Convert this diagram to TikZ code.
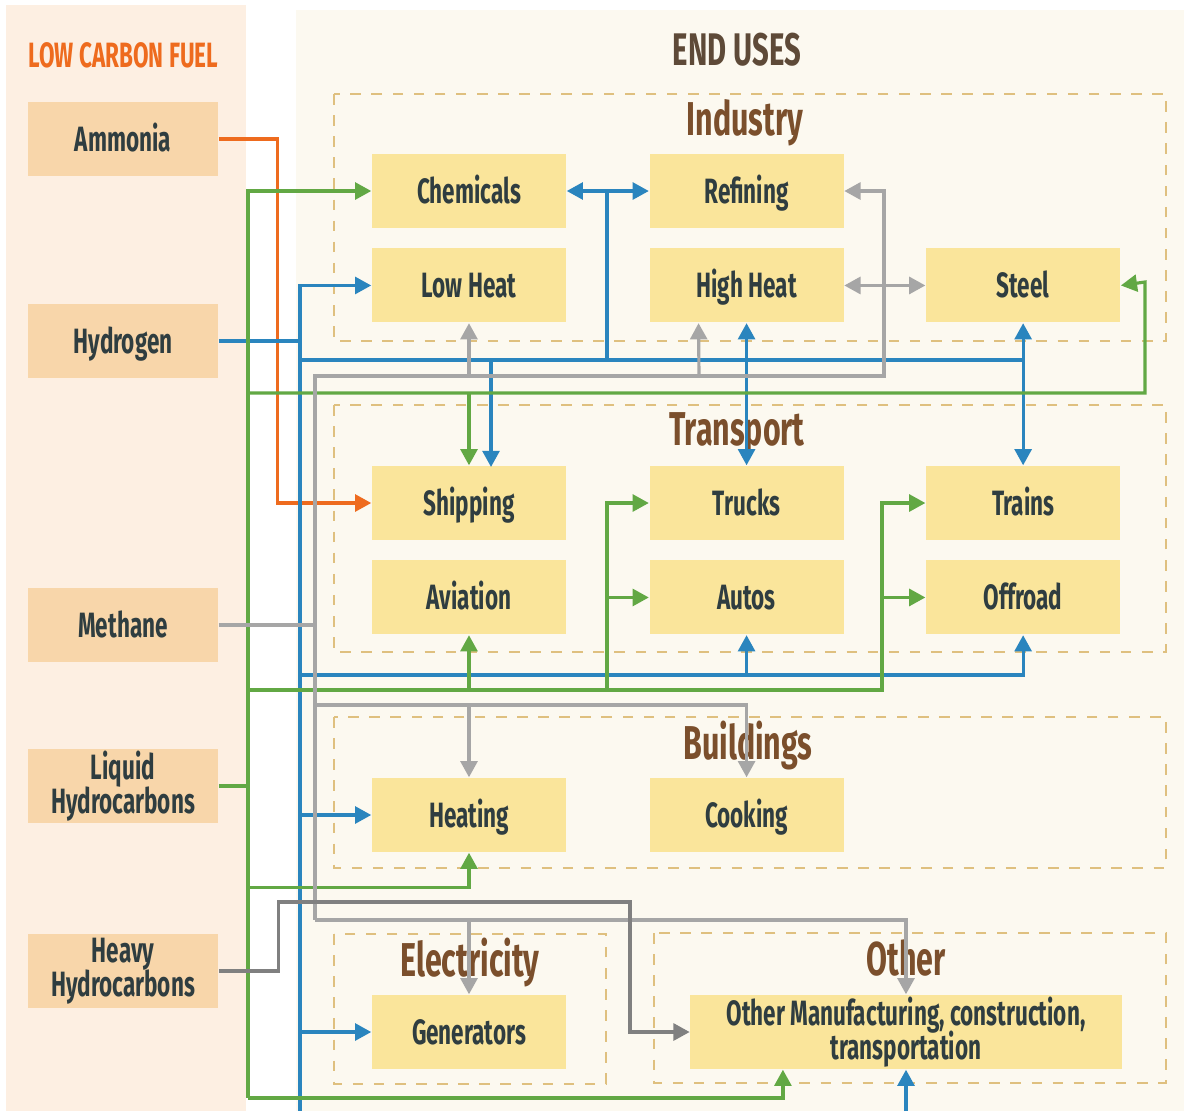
\documentclass[tikz,border=0pt]{standalone}
\usepackage{fontspec}
\setmainfont{Fira Sans}[FakeStretch=0.64]
\usepackage{xcolor}
\definecolor{FuelPanel}{HTML}{FDEFE2}
\definecolor{UsePanel}{HTML}{FCF9F0}
\definecolor{FuelBox}{HTML}{F8D6AA}
\definecolor{UseBox}{HTML}{FAE59B}
\definecolor{GroupLine}{HTML}{DFC07F}
\definecolor{BoxText}{HTML}{2F3D40}
\definecolor{TitleBrown}{HTML}{7B4F2C}
\definecolor{HeadBrown}{HTML}{5E4A38}
\definecolor{FuelOrange}{HTML}{EE6B1E}
\definecolor{H2Blue}{HTML}{2A85BE}
\definecolor{LiqGreen}{HTML}{62A844}
\definecolor{CH4Gray}{HTML}{A6A6A6}
\definecolor{HeavyGray}{HTML}{808080}
\usetikzlibrary{arrows.meta, positioning}

\begin{document}
\begin{tikzpicture}[
        x=0.01cm, y=-0.01cm,
        node distance=0cm,
        >={Triangle[length=4.6pt,width=4.8pt]},
        fuel/.style={rectangle, fill=FuelBox, text=BoxText, font=\bfseries\fontsize{10}{10.5}\selectfont, align=center, minimum width=1.9cm, minimum height=0.74cm, inner sep=0pt},
        use/.style={rectangle, fill=UseBox, text=BoxText, font=\bfseries\fontsize{10}{10.5}\selectfont, align=center, minimum width=1.94cm, minimum height=0.74cm, inner sep=0pt},
        oneline/.style={text height=1.6ex, text depth=0.3ex},
        group/.style={draw=GroupLine, line width=0.8pt, dash pattern=on 3pt off 3pt},
        grouptitle/.style={text=TitleBrown, font=\bfseries\fontsize{13.5}{13.5}\selectfont},
        nh3/.style={draw=FuelOrange, line width=0.9pt},
        h2/.style={draw=H2Blue, line width=0.9pt},
        liq/.style={draw=LiqGreen, line width=0.9pt},
        ch4/.style={draw=CH4Gray, line width=0.9pt},
        heavyline/.style={draw=HeavyGray, line width=0.9pt}
    ]
        \useasboundingbox (0,0) rectangle (1184,1111);
        \fill[white] (0,0) rectangle (1184,1111);
        \fill[FuelPanel] (6,5) rectangle (246,1111);
        \fill[UsePanel] (296,10) rectangle (1184,1111);

        \node[text=FuelOrange, font=\bfseries\fontsize{10}{10}\selectfont, anchor=west, inner sep=0pt] (fueltitle) at (28,55) {LOW CARBON FUEL};
        \node[text=HeadBrown, font=\bfseries\fontsize{13}{13}\selectfont] (usetitle) at (737,50) {END USES};

        % sector frames
        \draw[group] (334,94) rectangle (1166,341);
        \draw[group] (334,405) rectangle (1166,652);
        \draw[group] (334,717) rectangle (1166,868);
        \draw[group] (334,934) rectangle (606,1084);
        \draw[group] (654,933) rectangle (1166,1083);
        \node[grouptitle] (industry) at (745,123) {Industry};
        \node[grouptitle] (transport) at (737,434) {Transport};
        \node[grouptitle] (buildings) at (748,746) {Buildings};
        \node[grouptitle] (electricity) at (470,963) {Electricity};
        \node[grouptitle] (othertitle) at (906,958) {Other};

        % fuels
        \node[fuel, oneline] (ammonia) at (123,139) {Ammonia};
        \node[fuel, oneline] (hydrogen) at (123,341) {Hydrogen};
        \node[fuel, oneline] (methane) at (123,625) {Methane};
        \node[fuel] (liquid) at (123,786) {Liquid\\[-1pt]Hydrocarbons};
        \node[fuel] (heavy) at (123,971) {Heavy\\[-1pt]Hydrocarbons};

        % end uses
        \node[use, oneline] (chem) at (469,191) {Chemicals};
        \node[use, oneline, below=0.19cm of chem] (lowheat) {Low Heat};
        \node[use, oneline, right=0.82cm of chem] (refining) {Refining};
        \node[use, oneline, right=0.82cm of lowheat] (highheat) {High Heat};
        \node[use, oneline, right=0.81cm of highheat] (steel) {Steel};
        \node[use, oneline] (shipping) at (469,503) {Shipping};
        \node[use, oneline, below=0.19cm of shipping] (aviation) {Aviation};
        \node[use, oneline, right=0.82cm of shipping] (trucks) {Trucks};
        \node[use, oneline, right=0.82cm of aviation] (autos) {Autos};
        \node[use, oneline, right=0.81cm of trucks] (trains) {Trains};
        \node[use, oneline, right=0.81cm of autos] (offroad) {Offroad};
        \node[use, oneline] (heating) at (469,815) {Heating};
        \node[use, oneline, right=0.82cm of heating] (cooking) {Cooking};
        \node[use, oneline] (generators) at (469,1032) {Generators};
        \node[use, minimum width=4.31cm] (other) at (906,1032) {Other Manufacturing, construction,\\[-1pt]transportation};

        % bus points
        \coordinate (hbus1) at (300,360);
        \coordinate (hbus2) at (300,675);
        \coordinate (h2end) at (300,1111);
        \coordinate (gt) at (248,786);
        \coordinate (gbus1) at (248,393);
        \coordinate (gbus2) at (248,690);
        \coordinate (gbot) at (248,1098);
        \coordinate (mt) at (315,625);
        \coordinate (mbus1) at (315,376);
        \coordinate (mbus2) at (315,705);
        \coordinate (mbus3) at (315,920);
        \coordinate (cr) at (607,191);
        \coordinate (tx) at (882,594);

        % ammonia
        \draw[nh3,->] (ammonia.east) -- ++(59,0) |- (shipping.west);

        % hydrogen
        \draw[h2] (hydrogen.east) -| (h2end);
        \draw[h2,->] (300,341) |- (lowheat.west);
        \draw[h2,->] (hbus1) -| (steel.south);
        \draw[h2,<->] (chem) -- (refining);
        \draw[h2] (cr) -- (cr |- hbus1);
        \draw[h2,->] (hbus1 -| 491,0) -- (491,467);
        \draw[h2,<->] (highheat) -- (trucks);
        \draw[h2,->] (hbus1 -| steel) -- (trains);
        \draw[h2,->] (hbus2) -| (offroad.south);
        \draw[h2,->] (hbus2 -| autos) -- (autos.south);
        \draw[h2,->] (heating.west -| hbus1) -- (heating.west);
        \draw[h2,->] (generators.west -| hbus1) -- (generators.west);
        \draw[h2,->] (other.south |- h2end) -- (other.south);

        % liquid hydrocarbons
        \draw[liq] (liquid.east) -- (gt);
        \draw[liq,->] (gt) |- (chem.west);
        \draw[liq] (gt) -- (gbot);
        \draw[liq,->] (gbus1) -| (1145,282) -- (steel.east);
        \draw[liq,->] (gbus1 -| shipping.north) -- (shipping.north);
        \draw[liq,->] (gbus2) -| (tx) |- (trains.west);
        \draw[liq,->] (tx |- offroad.west) -- (offroad.west);
        \draw[liq,->] (gbus2 -| aviation.south) -- (aviation.south);
        \draw[liq,->] (gbus2 -| cr) |- (trucks.west);
        \draw[liq,->] (cr |- autos.west) -- (autos.west);
        \draw[liq,->] (gt) |- ([yshift=-0.35cm]heating.south) -- (heating.south);
        \draw[liq,->] (gbot) -| ([xshift=-1.23cm]other.south);

        % methane
        \draw[ch4] (methane.east) -- (mt);
        \draw[ch4,->] (mt) |- (884,376) |- (refining.east);
        \draw[ch4,->] (mbus1 -| lowheat.south) -- (lowheat.south);
        \draw[ch4,->] (mbus1 -| 699,0) -- ([xshift=-0.48cm]highheat.south);
        \draw[ch4,<->] (highheat) -- (steel);
        \draw[ch4] (mt) -- (mbus3);
        \draw[ch4,->] (mbus2) -| (cooking.north);
        \draw[ch4,->] (mbus2 -| heating.north) -- (heating.north);
        \draw[ch4,->] (mbus3) -| (other.north);
        \draw[ch4,->] (mbus3 -| generators.north) -- (generators.north);

        % heavy hydrocarbons
        \draw[heavyline,->] (heavy.east) -- ++(60,0) |- (630,902) |- (other.west);
    \end{tikzpicture}
\end{document}
